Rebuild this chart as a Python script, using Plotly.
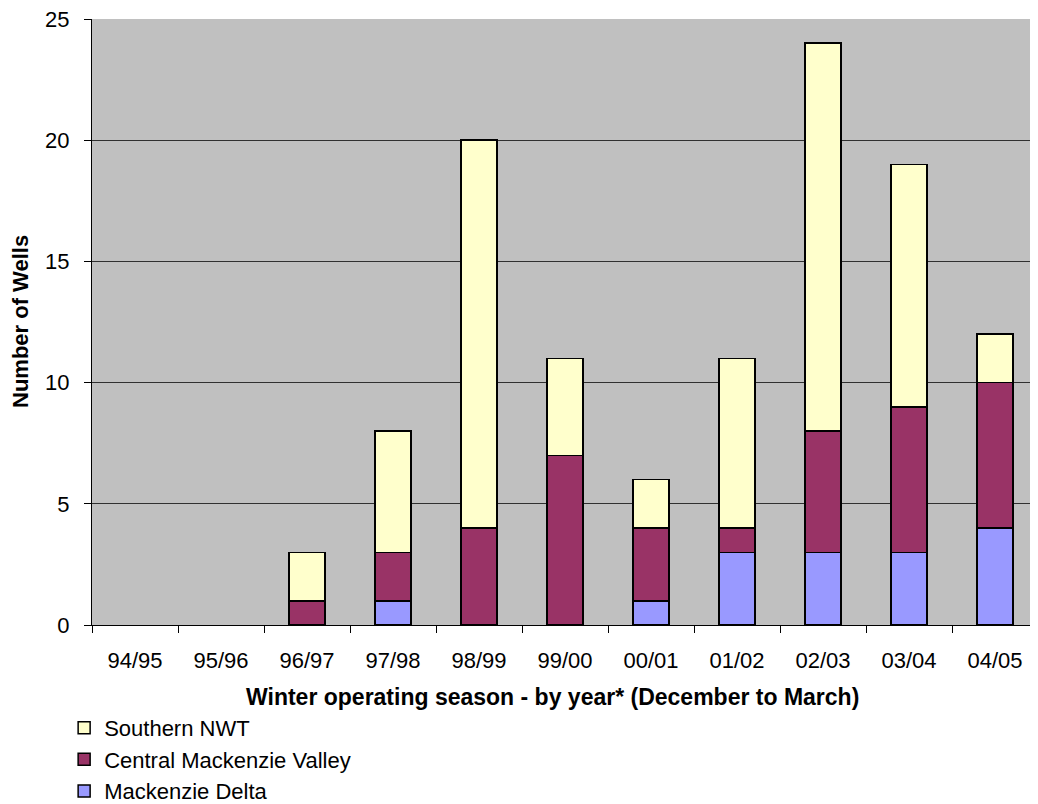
import plotly.graph_objects as go

seasons = ["94/95", "95/96", "96/97", "97/98", "98/99", "99/00",
           "00/01", "01/02", "02/03", "03/04", "04/05"]
mackenzie_delta = [0, 0, 0, 1, 0, 0, 1, 3, 3, 3, 4]
central_valley = [0, 0, 1, 2, 4, 7, 3, 1, 5, 6, 6]
southern_nwt = [0, 0, 2, 5, 16, 4, 2, 7, 16, 10, 2]

FONT = "Liberation Sans, Arial, sans-serif"

fig = go.Figure()
for name, vals, color, rank in [
    ("Mackenzie Delta", mackenzie_delta, "#9999FF", 3),
    ("Central Mackenzie Valley", central_valley, "#993366", 2),
    ("Southern NWT", southern_nwt, "#FFFFCC", 1),
]:
    fig.add_trace(go.Bar(
        x=seasons, y=[v if v else None for v in vals], name=name, legendrank=rank,
        marker=dict(color=color, line=dict(color="black", width=1.5)),
        width=0.42,
    ))

fig.update_layout(
    width=1030, height=796,
    barmode="stack",
    plot_bgcolor="#C0C0C0", paper_bgcolor="white",
    margin=dict(l=84, r=0, t=11, b=179, autoexpand=False),
    font=dict(family=FONT, size=22, color="black"),
    showlegend=True,
    legend=dict(
        traceorder="normal",
        xref="container", yref="container",
        x=0.0545, y=0.122, xanchor="left", yanchor="top",
        font=dict(family=FONT, size=22, color="black"),
        bgcolor="rgba(0,0,0,0)", itemwidth=30,
    ),
    xaxis=dict(
        type="category", tickson="boundaries", tickangle=0,
        ticks="outside", ticklen=7, tickcolor="black",
        showline=True, linecolor="black", linewidth=1,
        showgrid=False, ticklabelstandoff=16,
    ),
    yaxis=dict(
        range=[0, 25], dtick=5,
        ticks="outside", ticklen=7, tickcolor="black",
        showline=True, linecolor="black", linewidth=1,
        showgrid=True, gridcolor="#303030", gridwidth=1,
        zeroline=False, ticklabelstandoff=10, ticklabeloverflow="allow",
    ),
    annotations=[
        dict(
            text="<b>Number of Wells</b>", textangle=-90,
            xref="paper", yref="paper", x=0, y=0.5, xshift=-72,
            xanchor="center", yanchor="middle", showarrow=False,
            font=dict(family=FONT, size=22, color="black"),
        ),
        dict(
            text="<b>Winter operating season - by year* (December to March)</b>",
            xref="paper", yref="paper", x=0.4873, y=0, yshift=-72,
            xanchor="center", yanchor="middle", showarrow=False,
            font=dict(family=FONT, size=23, color="black"),
        ),
    ],
)

fig.write_html("out.html")
